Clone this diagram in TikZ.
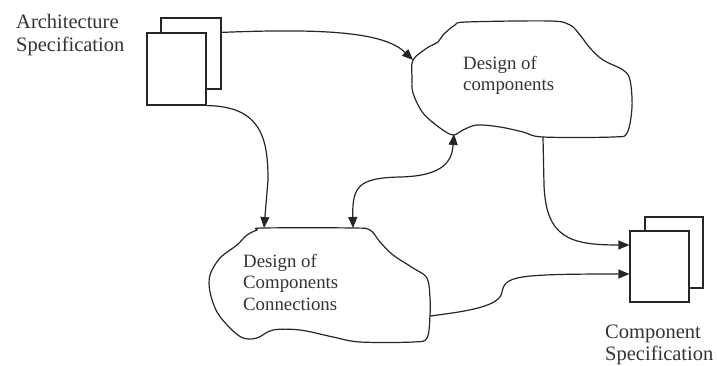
\documentclass[tikz,border=0pt]{standalone}
\usepackage{fontspec}
\setmainfont{Liberation Serif}
\usetikzlibrary{arrows.meta,calc}
\begin{document}
\begin{tikzpicture}[x=1pt,y=-1pt,
  ink/.style={draw=black!85,line width=1.2pt},
  docpage/.style={ink,fill=white,rectangle,inner sep=0pt},
  cloudline/.style={ink,line width=1.2pt,line join=round},
  tip/.style={Triangle[length=11pt,width=9pt]},
  flow/.style={ink,-{Triangle[length=11pt,width=9pt]}},
  both/.style={ink,{Triangle[length=11pt,width=9pt]}-{Triangle[length=11pt,width=9pt]}},
  lbl/.style={inner sep=0pt,anchor=north west,align=left,text=black!80}]
\useasboundingbox (0,0) rectangle (717,366);

% architecture specification document stack
\node[docpage,minimum width=60pt,minimum height=71pt] (archback) at (191,53.5) {};
\node[docpage,minimum width=59pt,minimum height=72pt] (archfront) at (176.5,69) {};
\node[lbl,font=\fontsize{20.5}{23}\selectfont] (archtext) at (16,14.5) {Architecture\\Specification};

% component specification document stack
\node[docpage,minimum width=58pt,minimum height=71pt] (compback) at (674,252.5) {};
\node[docpage,minimum width=59pt,minimum height=71pt] (compfront) at (659.5,266.5) {};
\node[lbl,font=\fontsize{20.5}{21.5}\selectfont] (comptext) at (605,325) {Component\\Specification};

% cloud: design of components
\draw[cloudline] plot[smooth cycle,tension=0.55] coordinates {
  (443,35) (455,25) (467,22) (550,21) (570,25) (580,35) (590,48) (603,60)
  (623,70) (630,80) (632,107) (627,133) (613,137) (543,137) (523,132)
  (500,127) (477,125) (463,130) (453,135) (440,128) (423,113) (413,93)
  (412,77) (413,60) (427,48) (438,42)};
\node[lbl,font=\fontsize{18.8}{21}\selectfont] (comp) at (463,56) {Design of\\components};
\coordinate (compW) at (413,60);
\coordinate (compS) at (454,134);
\coordinate (compOut) at (543,137);

% cloud: design of components connections
\draw[cloudline] plot[smooth cycle,tension=0.55] coordinates {
  (263,228) (353,228) (370,230) (380,242) (393,255) (413,268) (427,278)
  (430,298) (430,315) (427,338) (413,342) (360,342) (333,337) (300,330)
  (273,330) (257,338) (243,338) (230,328) (217,312) (210,292) (210,275)
  (220,258) (237,245) (247,235) (257,230)};
\node[lbl,font=\fontsize{18.8}{21.5}\selectfont] (conn) at (243,254) {Design of\\Components\\Connections};
\coordinate (connN1) at (264,228);
\coordinate (connN2) at (353,228);
\coordinate (connE) at (430,316);

% flows
\draw[flow] ($(archback.north east)+(0,15)$) .. controls (330,28) and (385,33) .. (compW);
\draw[flow] (archfront.south east) .. controls (262,106) and (268,140) .. (268,180) -- (connN1);
\draw[both] (connN2) .. controls (352,185) and (360,178) .. (400,177)
  .. controls (445,176) and (452,160) .. (compS);
\draw[flow] (compOut) -- (544,185) .. controls (546,238) and (570,245) .. ($(compfront.west)+(0,-21.5)$);
\draw[flow] (connE) .. controls (470,311) and (500,306) .. (502,292)
  .. controls (505,276) and (515,274) .. ($(compfront.west)+(0,7.5)$);
\end{tikzpicture}
\end{document}
